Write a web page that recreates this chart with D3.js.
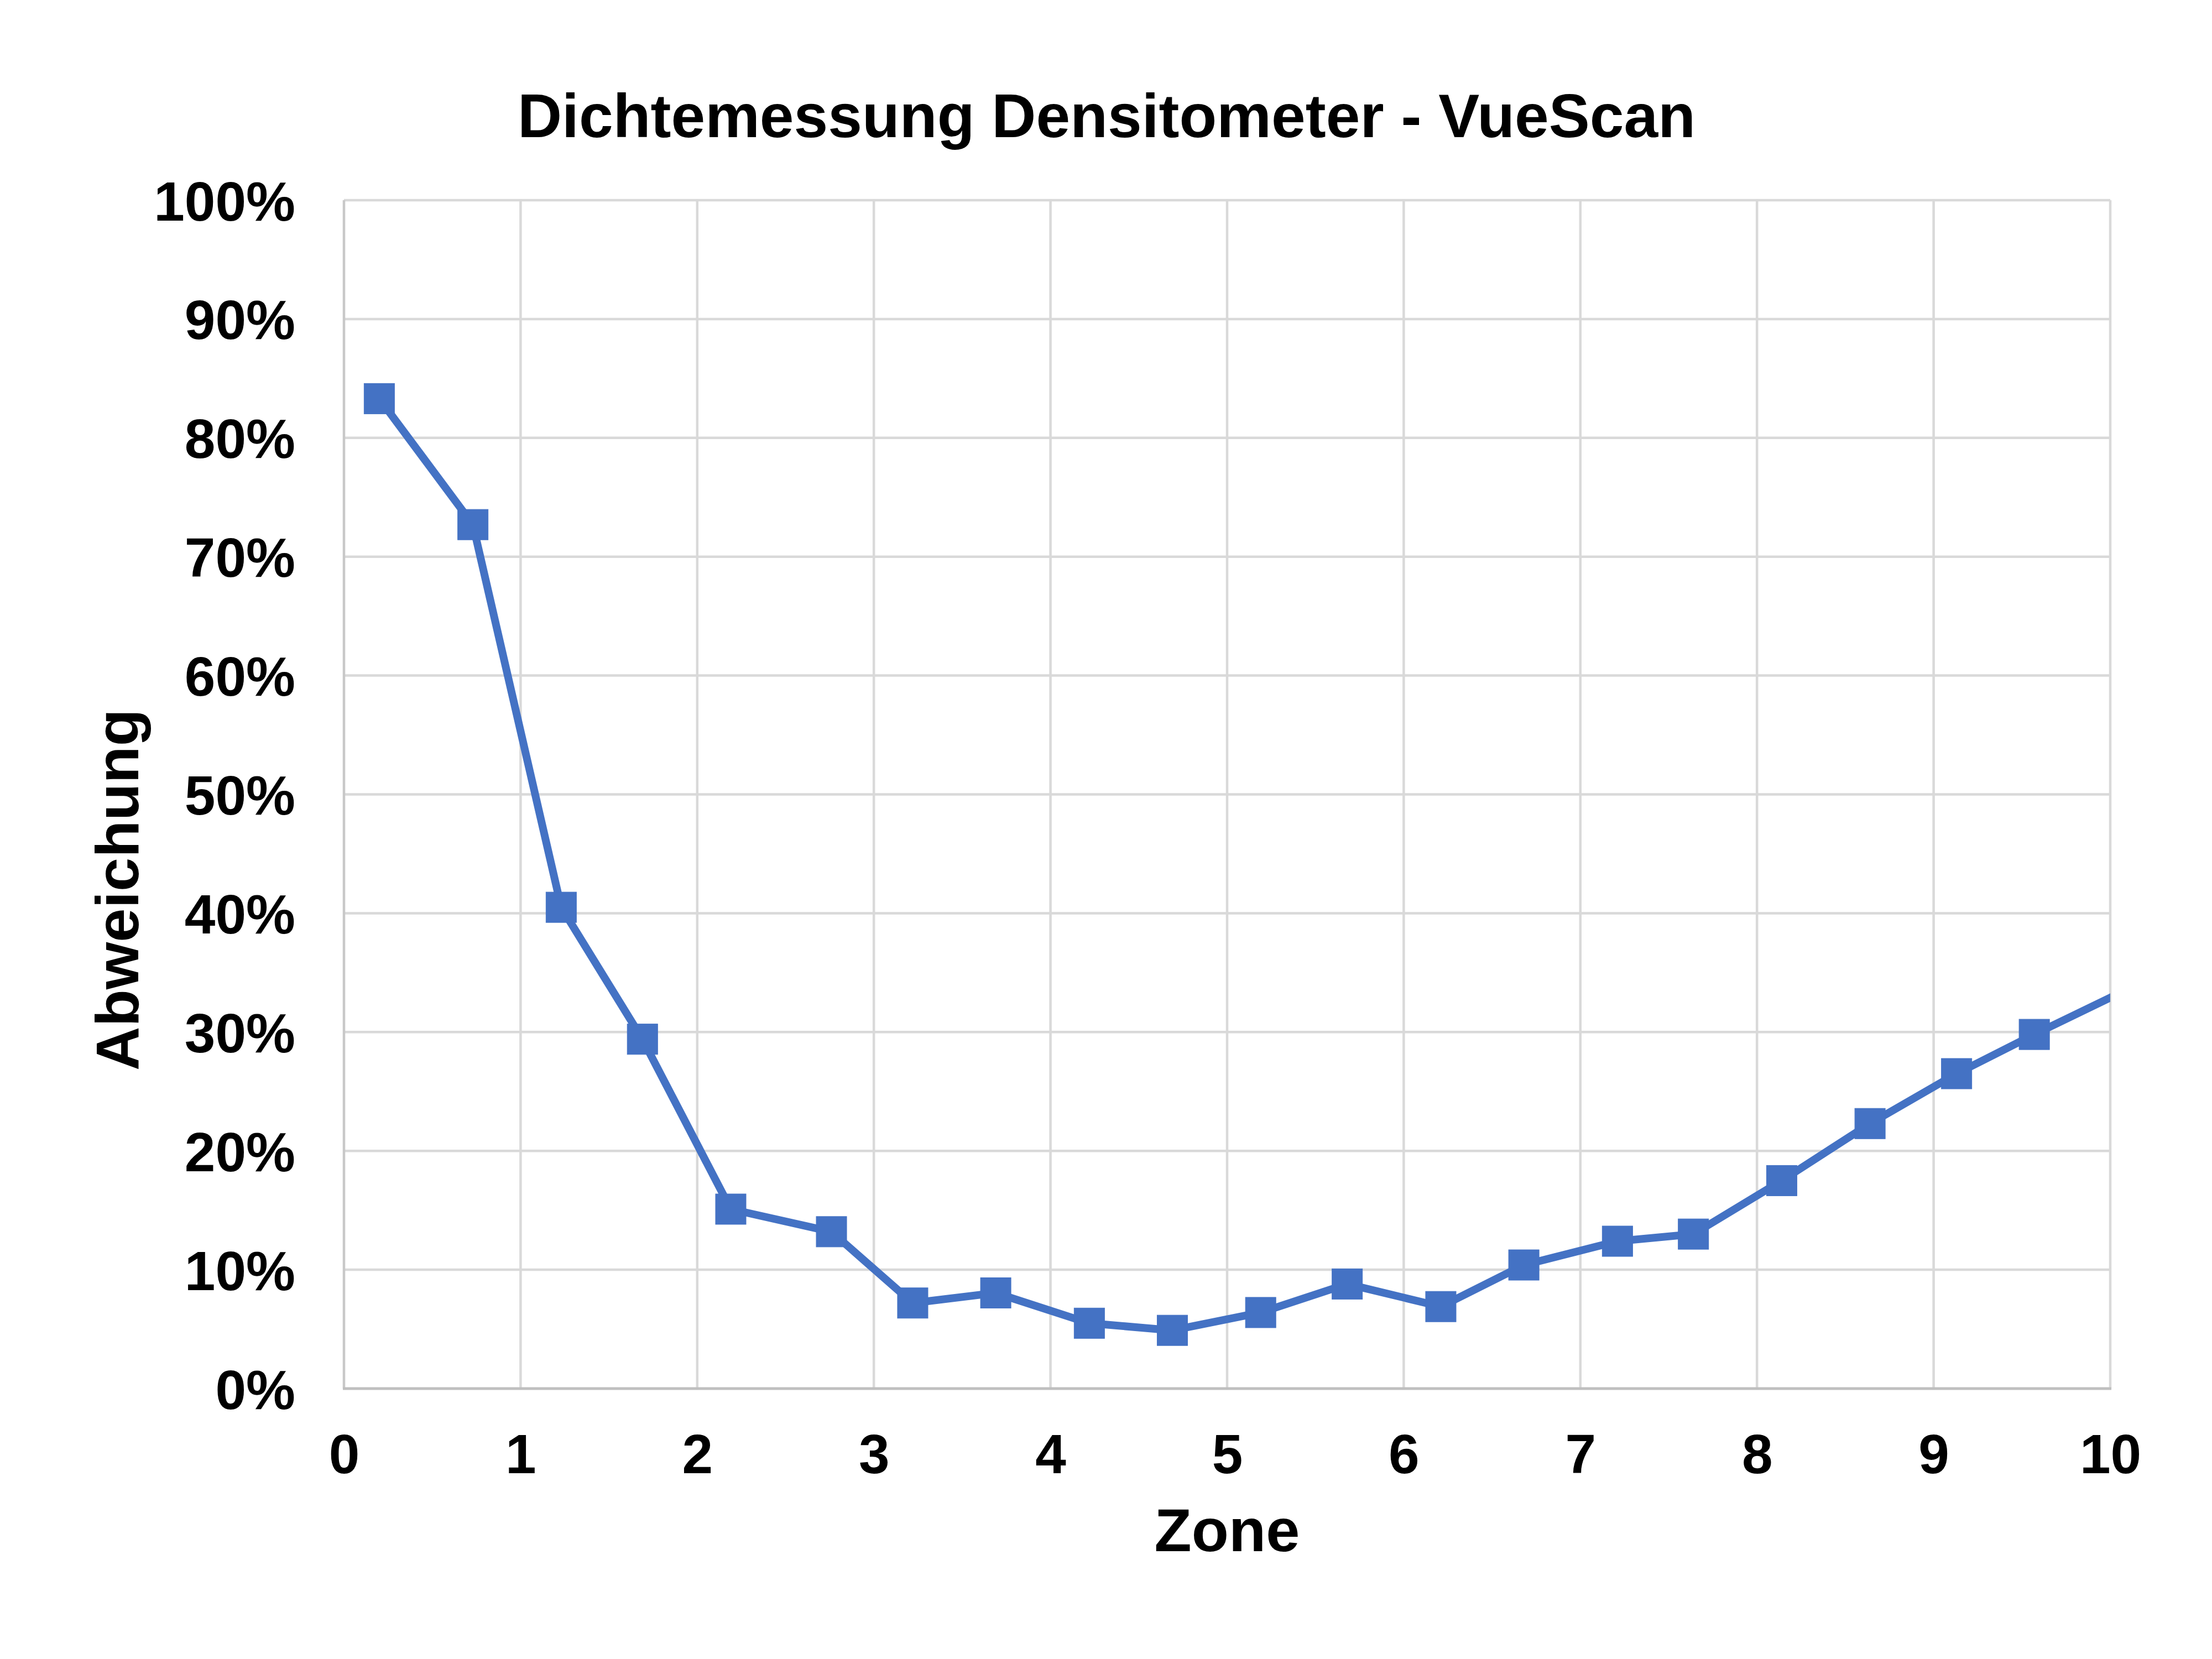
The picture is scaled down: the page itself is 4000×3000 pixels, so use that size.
<!DOCTYPE html>
<html>
<head>
<meta charset="utf-8">
<script src="https://cdn.jsdelivr.net/npm/d3@7"></script>
<style>
  html, body { margin: 0; padding: 0; background: #fff; }
  svg { display: block; }
  text { font-family: "Liberation Sans", Arial, sans-serif; font-weight: bold; fill: #000; }
</style>
</head>
<body>
<script>
// ---- Data ----
const zones = [0.20, 0.73, 1.23, 1.69, 2.19, 2.76, 3.22, 3.69, 4.22, 4.69, 5.19, 5.68, 6.21, 6.68, 7.21, 7.64, 8.14, 8.64, 9.13, 9.57, 10.07];
const deviation = [0.833, 0.727, 0.405, 0.294, 0.151, 0.132, 0.072, 0.0805, 0.055, 0.049, 0.064, 0.088, 0.069, 0.104, 0.124, 0.130, 0.175, 0.223, 0.265, 0.298, 0.334];
const xTicks = [0, 1, 2, 3, 4, 5, 6, 7, 8, 9, 10];
const yTicks = [0, 0.1, 0.2, 0.3, 0.4, 0.5, 0.6, 0.7, 0.8, 0.9, 1.0];
const titleText = "Dichtemessung Densitometer - VueScan";
const xTitle = "Zone";
const yTitle = "Abweichung";

const W = 4000, H = 3000;
const plot = { left: 622, right: 3816, top: 362, bottom: 2511 };
const color = "#4472C4";

const svg = d3.select("body").append("svg")
  .attr("width", W).attr("height", H)
  .attr("viewBox", `0 0 ${W} ${H}`);

svg.append("rect").attr("width", W).attr("height", H).attr("fill", "#fff");

const x = d3.scaleLinear().domain([0, 10]).range([plot.left, plot.right]);
const y = d3.scaleLinear().domain([0, 1]).range([plot.bottom, plot.top]);

// Gridlines
const grid = svg.append("g");
grid.selectAll("line.v").data(xTicks.filter(d => d > 0)).join("line")
  .attr("x1", d => x(d)).attr("x2", d => x(d))
  .attr("y1", plot.top).attr("y2", plot.bottom)
  .attr("stroke", "#d9d9d9").attr("stroke-width", 4.5);
grid.selectAll("line.h").data(yTicks.filter(d => d > 0)).join("line")
  .attr("x1", plot.left).attr("x2", plot.right)
  .attr("y1", d => y(d)).attr("y2", d => y(d))
  .attr("stroke", "#d9d9d9").attr("stroke-width", 4.5);

// Axis lines
svg.append("line")
  .attr("x1", plot.left).attr("x2", plot.left)
  .attr("y1", plot.top).attr("y2", plot.bottom)
  .attr("stroke", "#c8c8c8").attr("stroke-width", 4.5);
svg.append("line")
  .attr("x1", plot.left - 2).attr("x2", plot.right + 2)
  .attr("y1", plot.bottom).attr("y2", plot.bottom)
  .attr("stroke", "#bfbfbf").attr("stroke-width", 5);

// Tick labels
const xAxis = d3.axisBottom(x).tickValues(xTicks).tickSize(0).tickPadding(0).tickFormat(d3.format("d"));
const gx = svg.append("g").attr("transform", `translate(0,${plot.bottom})`).call(xAxis);
gx.select(".domain").remove();
gx.selectAll("text")
  .attr("y", 153).attr("dy", null)
  .style("font-size", "100px").style("font-family", '"Liberation Sans", Arial, sans-serif')
  .style("font-weight", "bold").attr("fill", "#000");

const yAxis = d3.axisLeft(y).tickValues(yTicks).tickSize(0).tickPadding(0).tickFormat(d3.format(".0%"));
const gy = svg.append("g").attr("transform", `translate(${plot.left},0)`).call(yAxis);
gy.select(".domain").remove();
gy.selectAll("text")
  .attr("x", -88).attr("dy", "0.36em")
  .style("font-size", "100px").style("font-family", '"Liberation Sans", Arial, sans-serif')
  .style("font-weight", "bold").attr("fill", "#000");

// Clip for data
svg.append("clipPath").attr("id", "clip")
  .append("rect")
  .attr("x", plot.left).attr("y", plot.top - 60)
  .attr("width", plot.right - plot.left).attr("height", plot.bottom - plot.top + 120);

const pts = zones.map((z, i) => ({ z, v: deviation[i] }));
const line = d3.line().x(d => x(d.z)).y(d => y(d.v));

const dataG = svg.append("g").attr("clip-path", "url(#clip)");
dataG.append("path").datum(pts)
  .attr("d", line)
  .attr("fill", "none").attr("stroke", color)
  .attr("stroke-width", 14).attr("stroke-linejoin", "round");

const ms = 55;
dataG.selectAll("rect.m").data(pts.filter(d => d.z <= 10)).join("rect")
  .attr("x", d => x(d.z) - ms / 2).attr("y", d => y(d.v) - ms / 2)
  .attr("width", ms).attr("height", ms)
  .attr("fill", color).attr("stroke", color).attr("stroke-width", 1);

// Titles
svg.append("text").attr("x", 2001).attr("y", 248)
  .attr("text-anchor", "middle").style("font-size", "111px").text(titleText);

svg.append("text").attr("x", (plot.left + plot.right) / 2).attr("y", 2805)
  .attr("text-anchor", "middle").style("font-size", "110px").text(xTitle);

svg.append("text")
  .attr("transform", `translate(250,1609) rotate(-90)`)
  .attr("text-anchor", "middle").style("font-size", "110px").text(yTitle);
</script>
</body>
</html>
